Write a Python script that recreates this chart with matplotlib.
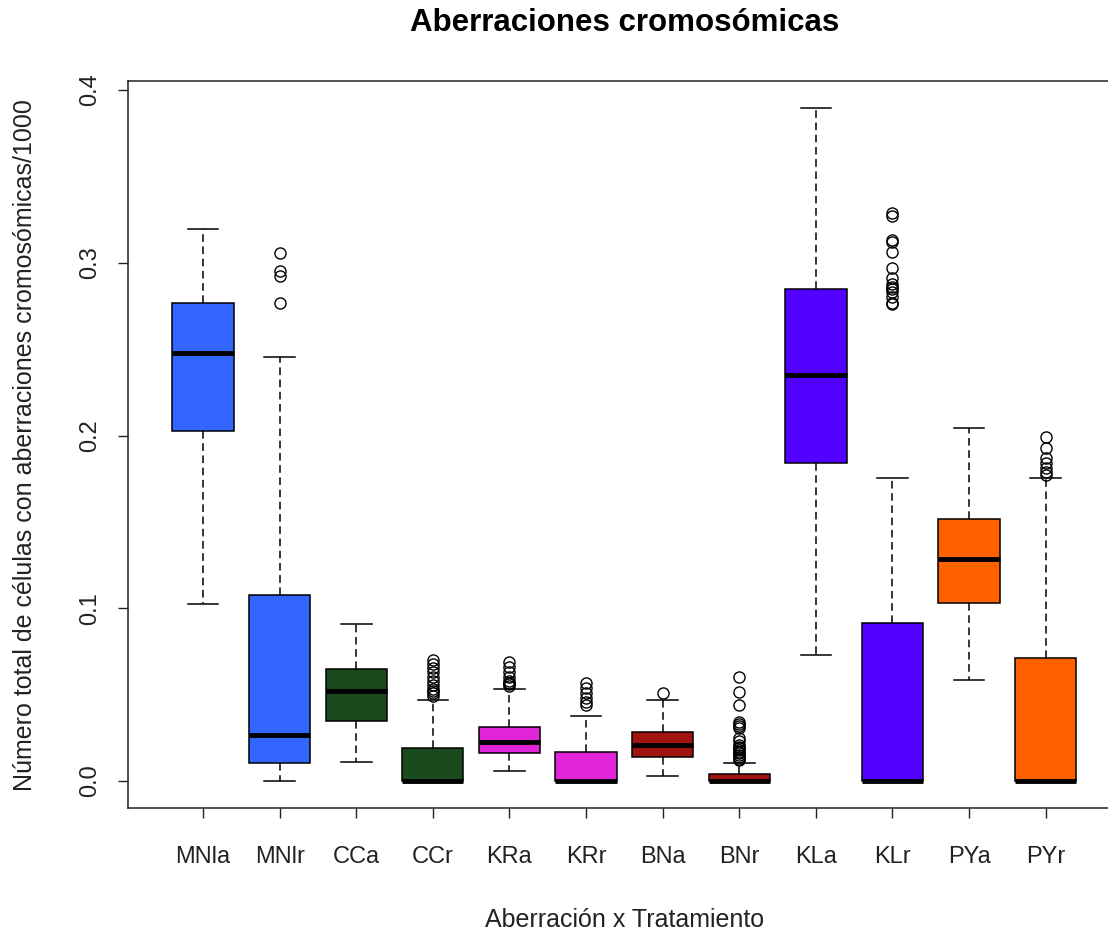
import matplotlib
matplotlib.use("Agg")
import matplotlib.pyplot as plt

plt.rcParams['font.family'] = ['Liberation Sans', 'DejaVu Sans']

# datos
labels = ["MNla", "MNlr", "CCa", "CCr", "KRa", "KRr", "BNa", "BNr", "KLa", "KLr", "PYa", "PYr"]
colors = ["#3366FF", "#3366FF", "#1B4A1F", "#1B4A1F", "#E026D8", "#E026D8",
          "#A0130E", "#A0130E", "#5200FF", "#5200FF", "#FF6000", "#FF6000"]
whislo = [0.1025, 0.0, 0.011, 0.0, 0.0058, 0.0, 0.0029, 0.0, 0.0729, 0.0, 0.0585, 0.0]
q1 = [0.2026, 0.0104, 0.0347, 0.0, 0.0162, 0.0, 0.0140, 0.0, 0.184, 0.0, 0.103, 0.0]
med = [0.2478, 0.0266, 0.0521, 0.0, 0.0226, 0.0, 0.0208, 0.0, 0.235, 0.0, 0.1285, 0.0]
q3 = [0.2767, 0.1077, 0.0648, 0.019, 0.0313, 0.0168, 0.0284, 0.0040, 0.2848, 0.0915, 0.1517, 0.0712]
whishi = [0.3195, 0.2454, 0.0909, 0.0469, 0.0533, 0.0376, 0.0469, 0.0104, 0.3896, 0.1754, 0.2043, 0.1754]
fliers = [
    [],
    [0.3058, 0.2955, 0.2925, 0.2769],
    [],
    [0.0700, 0.0680, 0.0655, 0.0630, 0.0605, 0.0580, 0.0555, 0.0535, 0.0520, 0.0510, 0.0495],
    [0.069, 0.066, 0.063, 0.060, 0.058, 0.057, 0.056, 0.055],
    [0.0567, 0.054, 0.051, 0.048, 0.046, 0.044],
    [0.0509],
    [0.060, 0.0515, 0.044, 0.034, 0.033, 0.032, 0.031, 0.025, 0.023, 0.021, 0.020,
     0.019, 0.018, 0.017, 0.016, 0.015, 0.014, 0.013, 0.012],
    [],
    [0.329, 0.327, 0.313, 0.312, 0.306, 0.297, 0.291, 0.288, 0.286, 0.285, 0.283,
     0.280, 0.277, 0.276],
    [],
    [0.1991, 0.1928, 0.187, 0.184, 0.181, 0.179, 0.177],
]

stats = []
for i in range(len(labels)):
    stats.append({"label": labels[i], "whislo": whislo[i], "q1": q1[i], "med": med[i],
                  "q3": q3[i], "whishi": whishi[i], "fliers": fliers[i]})

fig = plt.figure(figsize=(11.08, 9.32), dpi=100)
ax = fig.add_axes([0.1155, 0.133, 0.896, 0.780])

bp = ax.bxp(stats, positions=range(1, 13), widths=0.8, patch_artist=True,
            boxprops=dict(edgecolor="black", linewidth=1.1),
            medianprops=dict(color="black", linewidth=3.5, solid_capstyle="butt"),
            whiskerprops=dict(color="black", linewidth=1.1, linestyle=(0, (5, 3))),
            capprops=dict(color="black", linewidth=1.1),
            capwidths=0.4,
            flierprops=dict(marker="o", markerfacecolor="none", markeredgecolor="black",
                            markersize=8, markeredgewidth=1.0))
for patch, c in zip(bp["boxes"], colors):
    patch.set_facecolor(c)

ax.set_xlim(0.02, 12.98)
ax.set_ylim(-0.0156, 0.4052)
ax.set_yticks([0.0, 0.1, 0.2, 0.3, 0.4])
ax.set_yticklabels(["0.0", "0.1", "0.2", "0.3", "0.4"], rotation=90, va="center")
ax.tick_params(axis="both", direction="out", length=7, width=1.0, labelsize=17,
               colors="#222222", labelcolor="#222222")
ax.tick_params(axis="x", pad=20)
ax.tick_params(axis="y", pad=12)
for s in ax.spines.values():
    s.set_linewidth(1.1)
    s.set_color("#222222")

ax.set_title("Aberraciones cromosómicas", fontsize=22.5, fontweight="bold", pad=36)
ax.set_xlabel("Aberración x Tratamiento", fontsize=18, labelpad=29, color="#222222")
ax.set_ylabel("Número total de células con aberraciones cromosómicas/1000", fontsize=18,
              labelpad=31, color="#222222")

fig.savefig("out.png", dpi=100)
